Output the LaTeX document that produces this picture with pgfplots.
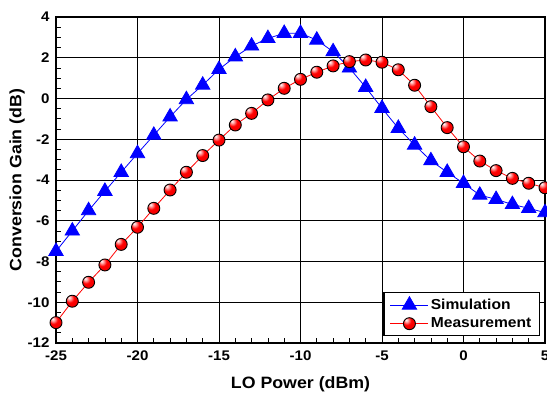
\documentclass[border=0pt]{standalone}
\usepackage{fontspec}
\setmainfont{Liberation Sans}[FakeStretch=1.08]
\usepackage{pgfplots}
\pgfplotsset{compat=1.18}

\pgfdeclareradialshading{redball}{\pgfqpoint{-14bp}{16bp}}{%
  color(0bp)=(white); color(7bp)=(red!35!white); color(18bp)=(red);
  color(45bp)=(red!90!black); color(62bp)=(red!60!black); color(80bp)=(red!45!black)}
\pgfdeclareplotmark{shadedball}{%
  \pgfpathcircle{\pgfpointorigin}{\pgfplotmarksize}%
  \pgfshadepath{redball}{0}%
  \pgfusepath{stroke}%
}

\begin{document}
\begin{tikzpicture}
\begin{axis}[
  width=489bp, height=326bp, scale only axis,
  xmin=-25, xmax=5, ymin=-12, ymax=4,
  xtick={-25,-20,...,5}, ytick={-12,-10,...,4},
  minor x tick num=4, minor y tick num=3,
  grid=major,
  major grid style={black, line width=0.9pt},
  axis line style={black, line width=1.6pt},
  tick pos=left, tick align=inside,
  major tick length=5bp, minor tick length=5bp,
  every tick/.style={black, line width=0.8pt},
  minor tick style={black, line width=0.8pt},
  /pgf/number format/assume math mode=true,
  ticklabel style={font=\fontsize{14}{16}\selectfont\bfseries},
  yticklabel style={xshift=-3bp},
  xticklabel style={yshift=-4bp},
  xlabel={LO Power (dBm)},
  ylabel={Conversion Gain (dB)},
  every axis x label/.style={at={(axis description cs:0.5,-0.126)}, anchor=center, font=\fontsize{16.5}{18}\selectfont\bfseries},
  every axis y label/.style={at={(axis description cs:-0.0797,0.5)}, anchor=center, rotate=90, font=\fontsize{16.5}{18}\selectfont\bfseries},
  clip=false,
  legend style={at={(rel axis cs:1,0)}, anchor=south east, xshift=-5bp, yshift=7bp,
    draw=black, line width=1.2pt, fill=white,
    font=\fontsize{14.5}{17}\selectfont\bfseries, row sep=3bp, inner xsep=6bp, inner ysep=4bp},
  legend cell align=left,
  legend image code/.code={\draw[mark repeat=2,mark phase=2] plot coordinates {(0bp,0bp)(19bp,0bp)(38bp,0bp)};},
]
\addplot[blue, line width=0.8pt, mark=triangle*, mark size=8.3bp, mark options={fill=blue, draw=none}] coordinates {
(-25,-7.5) (-24,-6.5) (-23,-5.5) (-22,-4.55) (-21,-3.62) (-20,-2.7) (-19,-1.8) (-18,-0.9) (-17,-0.05) (-16,0.66) (-15,1.43) (-14,2.05) (-13,2.58) (-12,2.95) (-11,3.2) (-10,3.2) (-9,2.87) (-8,2.3) (-7,1.5) (-6,0.55) (-5,-0.48) (-4,-1.46) (-3,-2.28) (-2,-3.05) (-1,-3.62) (0,-4.16) (1,-4.74) (2,-4.95) (3,-5.2) (4,-5.39) (5,-5.6)
};
\addlegendentry{Simulation}
\addplot[red, line width=0.8pt, mark=shadedball, mark size=6bp, mark options={draw=black, line width=0.9pt}] coordinates {
(-25,-11.0) (-24,-9.95) (-23,-9.02) (-22,-8.17) (-21,-7.16) (-20,-6.32) (-19,-5.39) (-18,-4.49) (-17,-3.62) (-16,-2.8) (-15,-2.04) (-14,-1.3) (-13,-0.73) (-12,-0.07) (-11,0.5) (-10,0.94) (-9,1.29) (-8,1.6) (-7,1.81) (-6,1.89) (-5,1.78) (-4,1.41) (-3,0.65) (-2,-0.4) (-1,-1.43) (0,-2.37) (1,-3.07) (2,-3.54) (3,-3.92) (4,-4.16) (5,-4.38)
};
\addlegendentry{Measurement}
\coordinate (sw) at (rel axis cs:0,0);
\coordinate (ne) at (rel axis cs:1,1);
\end{axis}
\pgfresetboundingbox
\useasboundingbox ([xshift=-56bp,yshift=-55bp]sw) rectangle ([xshift=2bp,yshift=17bp]ne);
\end{tikzpicture}
\end{document}
